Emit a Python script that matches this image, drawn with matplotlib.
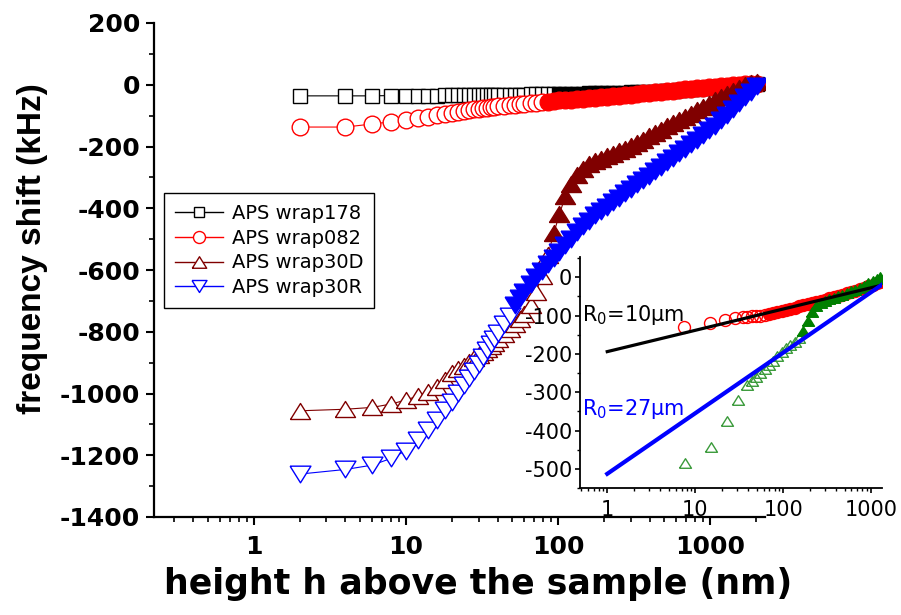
import matplotlib
matplotlib.use('Agg')
import matplotlib.pyplot as plt
from matplotlib.ticker import MultipleLocator, LogLocator, NullFormatter

plt.rcParams['font.family'] = ['DejaVu Sans']
plt.rcParams['axes.unicode_minus'] = False
plt.rcParams['mathtext.default'] = 'regular'

# ---------------- main panel data ----------------
h = [2, 4, 6, 8, 10, 12, 14, 16, 18, 20, 22, 24, 26, 28, 30, 32, 34, 36, 38, 40,
     44, 48, 52, 56, 60, 66, 72, 78, 86, 94,
     102, 112, 122, 134, 146, 160, 176, 192, 210, 230,
     252, 276, 302, 330, 362, 396, 434, 476, 520, 570,
     624, 684, 748, 820, 898, 984, 1078, 1180, 1294, 1416,
     1552, 1700, 1862, 2040]

wrap178 = [-36, -36, -36, -35, -35, -35, -35, -35, -34, -34,
           -34, -34, -34, -34, -33, -33, -33, -33, -33, -33,
           -33, -32, -32, -32, -32, -31, -31, -31, -31, -30,
           -30, -30, -29, -29, -29, -28, -28, -28, -27, -27,
           -26, -26, -25, -24, -24, -23, -22, -21, -20, -19,
           -18, -17, -15, -14, -12, -11, -9, -8, -6, -5,
           -3, -2, 0, 1]

wrap082 = [-137, -137, -127, -120, -114, -108, -103, -98, -94, -90,
           -87, -84, -82, -80, -78, -76, -74, -73, -72, -70,
           -68, -66, -64, -63, -62, -60, -58, -57, -55, -53,
           -51, -49, -48, -46, -45, -43, -42, -40, -39, -37,
           -35, -34, -32, -30, -28, -26, -24, -23, -21, -19,
           -17, -15, -13, -12, -10, -8, -6, -5, -3, -2,
           0, 1, 2, 3]

wrap30D = [-1056, -1051, -1045, -1034, -1021, -1008, -994, -978, -957, -935,
           -922, -910, -898, -886, -875, -865, -855, -845, -835, -825,
           -808, -792, -776, -760, -743, -712, -670, -620, -550, -480,
           -420, -360, -320, -292, -273, -258, -248, -240, -232, -224,
           -216, -207, -198, -188, -178, -166, -155, -145, -135, -125,
           -115, -104, -94, -83, -72, -61, -50, -40, -30, -20,
           -10, -2, 5, 10]

wrap30R = [-1261, -1246, -1232, -1210, -1185, -1150, -1118, -1085, -1055, -1026,
           -998, -972, -950, -928, -905, -882, -860, -840, -822, -805,
           -775, -748, -712, -690, -671, -646, -624, -604, -581, -560,
           -541, -519, -499, -478, -458, -440, -423, -409, -395, -381,
           -366, -352, -337, -323, -308, -294, -280, -265, -251, -236,
           -222, -207, -193, -178, -164, -148, -132, -115, -97, -79,
           -60, -41, -22, -3]

labels = ['APS wrap178', 'APS wrap082', 'APS wrap30D', 'APS wrap30R']

# ---------------- inset data ----------------
ins_h_red = [7.5, 14.8, 22, 28.6, 35, 39, 44, 49, 55, 62, 69, 77, 86, 97, 108, 121,
             136, 152, 170, 191, 214, 239, 268, 300, 336, 377, 422, 472, 529, 593,
             664, 743, 833, 932, 1044, 1170, 1250]
ins_red = [-130, -120, -111, -107, -104, -103, -102, -101, -100, -98, -96, -94, -91,
           -88, -85, -82, -79, -76, -73, -70, -67, -64, -61, -58, -55, -52, -49,
           -46, -42, -39, -35, -31, -27, -23, -19, -14, -11]

ins_h_green = [7.7, 15.2, 23.3, 30.5, 38.7, 44, 49, 55, 62, 69, 77, 86, 97, 108, 121,
               136, 152, 170, 191, 214, 239, 268, 300, 336, 377, 422, 472, 529, 593,
               664, 743, 833, 932, 1044, 1170, 1250]
ins_green = [-486, -442, -374, -320, -281, -270, -260, -250, -240, -230, -218, -206,
             -195, -185, -176, -168, -158, -140, -115, -90, -75, -67, -61, -57, -53,
             -49, -45, -41, -37, -32, -27, -22, -16, -10, -4, 0]

fit10_h = [1, 1300]
fit10 = [-194, -21]
fit27_h = [1, 1320]
fit27 = [-513, -20]

# ---------------- styles ----------------
tri_up = [(-1, -0.8), (1, -0.8), (0, 0.8), (-1, -0.8)]
tri_dn = [(-1, 0.8), (1, 0.8), (0, -0.8), (-1, 0.8)]

# (values, colour, marker, size, index where the markers merge into a band)
series = [
    (wrap178, 'black', 's', 10.5, 30),
    (wrap082, '#ff0000', 'o', 12, 28),
    (wrap30D, '#800000', tri_up, 14.4, 29),
    (wrap30R, '#0000ff', tri_dn, 15, 22),
]

fig = plt.figure(figsize=(9.01, 6.15), dpi=100)
ax = fig.add_axes([154 / 901, 1 - 517 / 615, (765 - 154) / 901, (517 - 23) / 615])

handles = []
for y, c, m, ms, split in series:
    ax.plot(h, y, '-', color=c, lw=0.8, zorder=2)
    ax.plot(h[:split], y[:split], ls='none', marker=m, ms=ms, mec=c, mfc='white',
            mew=1.0, zorder=2)
    ax.plot(h[split:], y[split:], ls='none', marker=m, ms=ms, mec=c, mfc=c,
            mew=1.0, zorder=2)
    hd, = ax.plot([], [], '-', color=c, lw=1.0, marker=m, ms=ms * 0.72, mec=c,
                  mfc='white', mew=1.0)
    handles.append(hd)

ax.set_xscale('log')
ax.set_xlim(0.22, 2300)
ax.set_ylim(-1400, 200)
for s in ['top', 'right']:
    ax.spines[s].set_visible(False)
for s in ['left', 'bottom']:
    ax.spines[s].set_linewidth(1.6)

ax.set_xticks([1, 10, 100, 1000], labels=['1', '10', '100', '1000'],
              fontsize=18, fontweight='bold')
ax.xaxis.set_minor_locator(LogLocator(base=10, subs=range(2, 10), numticks=20))
ax.xaxis.set_minor_formatter(NullFormatter())
yt = list(range(-1400, 201, 200))
ax.set_yticks(yt, labels=[str(v) for v in yt], fontsize=18, fontweight='bold')
ax.yaxis.set_minor_locator(MultipleLocator(100))
ax.tick_params(which='major', direction='out', length=6, width=1.5, pad=4)
ax.tick_params(axis='x', which='major', pad=7)
ax.tick_params(which='minor', direction='out', length=3.5, width=1.2)

leg = ax.legend(handles, labels, loc='upper left',
                bbox_to_anchor=(164 / 901, 1 - 193 / 615),
                bbox_transform=fig.transFigure, fontsize=14, frameon=True,
                fancybox=False, edgecolor='black', framealpha=1,
                handlelength=2.5, handletextpad=0.45, borderpad=0.55,
                labelspacing=0.3, borderaxespad=0)
leg.get_frame().set_linewidth(1.0)

fig.text(478 / 901, 1 - 594 / 615, 'height h above the sample (nm)', ha='center',
         va='baseline', fontsize=25, fontweight='bold')
fig.text(33 / 901, 1 - 249 / 615, 'frequency shift (kHz)', rotation=90, ha='center',
         va='center', fontsize=24, fontweight='bold', family='Liberation Sans')

# ---------------- inset ----------------
ax2 = fig.add_axes([580 / 901, 1 - 488 / 615, (882 - 580) / 901, (488 - 257) / 615])
ax2.set_facecolor('none')
sr = 10
ax2.plot(ins_h_red[:sr], ins_red[:sr], ls='none', marker='o', ms=8.6, mec='#ff0000',
         mfc='none', mew=1.0)
ax2.plot(ins_h_red[sr:], ins_red[sr:], ls='none', marker='o', ms=8.6, mec='#ff0000',
         mfc='#ff0000', mew=1.0)
sg = 17
ax2.plot(ins_h_green[:sg], ins_green[:sg], ls='none', marker=tri_up, ms=8.6,
         mec='#3a9a3a', mfc='none', mew=1.0)
ax2.plot(ins_h_green[sg:], ins_green[sg:], ls='none', marker=tri_up, ms=8.6,
         mec='#008000', mfc='#008000', mew=1.0)
ax2.plot(fit10_h, fit10, '-', color='black', lw=2.3)
ax2.plot(fit27_h, fit27, '-', color='#0000ff', lw=3.0)

ax2.set_xscale('log')
ax2.set_xlim(0.49, 1334)
ax2.set_ylim(-550, 53)
for s in ['top', 'right']:
    ax2.spines[s].set_visible(False)
for s in ['left', 'bottom']:
    ax2.spines[s].set_linewidth(1.3)
ax2.set_xticks([1, 10, 100, 1000], labels=['1', '10', '100', '1000'], fontsize=15)
ax2.xaxis.set_minor_locator(LogLocator(base=10, subs=range(2, 10), numticks=20))
ax2.xaxis.set_minor_formatter(NullFormatter())
yt2 = [-500, -400, -300, -200, -100, 0]
ax2.set_yticks(yt2, labels=[str(v) for v in yt2], fontsize=15)
ax2.yaxis.set_minor_locator(MultipleLocator(50))
ax2.tick_params(which='major', direction='out', length=3.5, width=1.2, pad=2)
ax2.tick_params(axis='x', which='major', pad=5)
ax2.tick_params(which='minor', direction='out', length=2, width=1.0)

fig.text(582 / 901, 1 - 321 / 615, 'R$_0$=10μm', ha='left', va='baseline',
         fontsize=15, color='black')
fig.text(582 / 901, 1 - 415 / 615, 'R$_0$=27μm', ha='left', va='baseline',
         fontsize=15, color='#0000ff')

fig.savefig('out.png', dpi=100)
